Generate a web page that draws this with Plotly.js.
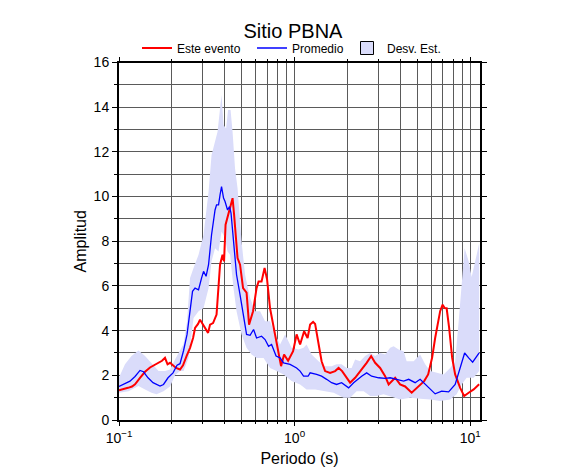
<!DOCTYPE html>
<html>
<head>
<meta charset="utf-8">
<script src="https://cdn.plot.ly/plotly-3.0.1.min.js"></script>
<style>html,body{margin:0;padding:0;background:#fff;}#chart{width:586px;height:475px;}</style>
</head>
<body>
<div id="chart"></div>
<script>
// Este evento (red)
var eventoT = [0.1,0.1068,0.1125,0.1186,0.1234,0.1317,0.1407,0.1502,0.1583,0.1668,0.1758,0.1828,0.189,0.1953,0.2031,0.2113,0.2226,0.2315,0.2425,0.2539,0.2641,0.2711,0.282,0.2894,0.2971,0.309,0.3216,0.33,0.3433,0.3594,0.3689,0.3763,0.3888,0.3966,0.4045,0.4179,0.4319,0.4434,0.4522,0.4642,0.4734,0.4892,0.5088,0.5328,0.5505,0.5801,0.6074,0.6235,0.6486,0.6746,0.6969,0.7249,0.7744,0.8103,0.8376,0.8712,0.9184,0.9806,1.027,1.075,1.133,1.186,1.226,1.275,1.309,1.37,1.425,1.492,1.593,1.702,1.781,1.865,1.991,2.071,2.212,2.409,2.573,2.729,2.876,3.07,3.279,3.433,3.594,3.738,3.99,4.262,4.643,4.989,5.258,5.47,5.764,6.074,6.318,6.529,6.746,6.97,7.155,7.345,7.59,7.897,8.214,8.77,9.244,9.806,10.47,11.25];
var eventoA = [1.33,1.38,1.44,1.5,1.6,1.89,2.16,2.35,2.45,2.56,2.65,2.78,2.49,2.56,2.45,2.33,2.26,2.45,2.86,3.23,3.67,4.12,4.3,4.49,4.34,4.12,3.9,4.27,4.34,4.72,6.2,6.95,7.4,7.1,8.74,9.18,9.63,9.93,9.2,8.0,7.25,6.95,5.9,5.7,4.27,4.87,5.9,6.2,6.2,6.8,6.3,5.0,3.83,2.93,2.41,2.93,2.65,3.08,3.83,3.38,3.97,3.67,4.27,4.39,4.3,3.4,2.63,2.19,2.11,2.19,2.33,2.19,1.89,1.67,1.89,2.26,2.56,2.86,2.56,2.33,1.96,1.59,1.74,1.89,1.59,1.5,1.22,1.44,1.6,1.74,2.04,2.8,3.67,4.3,4.87,5.16,5.01,5.0,4.12,2.78,2.04,1.44,1.07,1.22,1.37,1.6];

// Promedio (blue)
var promedioT = [0.1,0.1082,0.1155,0.1234,0.1317,0.1379,0.1463,0.1562,0.1713,0.1793,0.1902,0.2031,0.2141,0.2226,0.2331,0.2441,0.2539,0.2623,0.2711,0.2838,0.2952,0.3031,0.3132,0.3236,0.3366,0.3524,0.3594,0.3689,0.3763,0.3837,0.3939,0.4018,0.4152,0.4262,0.4347,0.4434,0.4581,0.4672,0.4892,0.5122,0.5328,0.5578,0.584,0.6074,0.6486,0.679,0.711,0.7395,0.7846,0.8268,0.8656,0.9428,1.027,1.075,1.125,1.194,1.226,1.335,1.425,1.522,1.625,1.735,1.853,2.031,2.169,2.409,2.573,2.747,3.011,3.279,3.502,3.813,4.18,4.463,4.86,5.189,5.65,6.318,6.88,7.54,8.214,8.77,9.30,9.806,10.33,11.25];
var promedioA = [1.5,1.62,1.74,1.95,2.22,2.16,1.89,1.67,1.52,1.59,1.89,2.11,2.45,2.52,3.1,3.83,4.87,5.76,5.9,5.83,6.35,6.65,6.43,6.95,8.29,9.4,9.63,9.63,10.08,10.45,9.93,9.78,9.4,9.55,9.25,8.58,7.4,6.5,5.6,4.72,3.83,3.79,4.05,3.67,3.75,3.6,3.3,3.38,2.86,2.78,2.56,2.49,2.33,2.19,1.96,1.96,2.11,2.04,1.96,1.82,1.67,1.59,1.67,1.44,1.67,1.96,2.11,1.96,1.89,1.86,1.89,1.82,1.74,1.82,1.67,1.82,1.52,1.17,1.29,1.26,1.59,2.33,3.0,2.78,2.59,3.0];

// Desv. Est. band: upper and lower edges
var bandUpperT = [0.1,0.1082,0.1178,0.1291,0.1407,0.1532,0.168,0.1828,0.1953,0.2085,0.2226,0.2331,0.2441,0.2539,0.2658,0.2838,0.3031,0.3236,0.3366,0.3524,0.3642,0.3763,0.3837,0.3939,0.4072,0.4179,0.4319,0.4434,0.4581,0.4734,0.4861,0.4989,0.5224,0.5578,0.5957,0.636,0.679,0.7249,0.7744,0.8268,0.8831,0.9614,1.054,1.125,1.17,1.25,1.37,1.492,1.625,1.735,1.853,1.979,2.113,2.212,2.361,2.522,2.693,2.876,3.07,3.279,3.502,3.666,3.914,4.18,4.347,4.766,5.189,5.542,5.917,6.444,7.063,7.691,8.214,8.602,8.945,9.30,9.806,10.20,10.68,11.25];
var bandUpperA = [1.9,2.49,2.86,3.11,2.86,2.56,2.19,2.19,2.26,2.71,3.08,3.4,4.42,6.35,6.8,7.4,8.29,10.22,11.86,12.53,12.9,13.94,14.54,13.2,13.05,13.87,13.87,12.9,11.26,10.37,9.18,7.99,6.5,5.46,4.87,4.87,4.42,4.42,3.83,3.38,3.83,3.23,3.16,3.23,3.38,2.93,2.63,2.41,2.41,2.49,2.49,2.33,2.33,2.71,2.63,2.86,3.0,2.86,3.0,2.93,3.23,3.3,3.16,3.08,2.63,2.63,2.93,2.49,2.19,2.11,2.04,2.33,2.63,4.42,6.2,7.69,7.1,6.4,7.1,7.9];
var bandLowerT = [0.1,0.1133,0.1291,0.1407,0.1532,0.1635,0.1793,0.1953,0.2085,0.2226,0.2331,0.2489,0.2658,0.2838,0.3031,0.3236,0.3366,0.3524,0.3689,0.3837,0.4018,0.4152,0.4292,0.4375,0.449,0.4672,0.4989,0.5328,0.5689,0.6074,0.6658,0.7249,0.7897,0.8656,0.9614,1.075,1.17,1.309,1.463,1.668,1.902,2.071,2.256,2.473,2.693,2.933,3.215,3.666,3.99,4.55,5.189,5.917,6.746,7.691,8.375,8.945,9.55,10.47,11.25];
var bandLowerA = [1.22,1.29,1.52,1.37,1.22,1.15,1.29,1.5,2.0,2.19,2.19,2.78,4.57,4.87,5.01,5.9,7.1,7.69,7.54,8.44,8.14,7.54,7.4,6.8,5.9,4.87,3.83,3.23,2.93,2.78,2.78,2.33,2.19,2.04,1.74,1.59,1.37,1.37,1.29,1.22,1.0,1.0,1.29,1.29,1.07,1.07,1.15,1.0,0.92,1.0,0.95,0.92,0.85,0.92,1.15,1.59,1.89,1.89,2.19];

var bandX = bandUpperT.concat(bandLowerT.slice().reverse());
var bandY = bandUpperA.concat(bandLowerA.slice().reverse());

var xMajor = [0.1, 1, 10];
var xMajorText = ['10<sup>\u22121</sup>', '10<sup>0</sup>', '10<sup>1</sup>'];
var xMinor = [0.2,0.3,0.4,0.5,0.6,0.7,0.8,0.9,2,3,4,5,6,7,8,9];

var bandColor = 'rgb(218,220,250)';
var gridColor = '#5a5a5a';

var traces = [
  {x: bandX, y: bandY, type: 'scatter', mode: 'lines', fill: 'toself',
   fillcolor: bandColor, line: {width: 0, color: bandColor}, showlegend: false, hoverinfo: 'skip'},
  {x: eventoT, y: eventoA, type: 'scatter', mode: 'lines', name: 'Este evento',
   line: {color: '#ff0000', width: 2}, legend: 'legend'},
  {x: promedioT, y: promedioA, type: 'scatter', mode: 'lines', name: 'Promedio',
   line: {color: '#0000ff', width: 1.3}, legend: 'legend2'},
  {x: [null], y: [null], type: 'scatter', mode: 'markers', name: 'Desv. Est.',
   marker: {symbol: 'square', size: 13, color: bandColor, line: {color: '#000', width: 1}},
   legend: 'legend3'}
];

function leg(xpx) {
  return {xref: 'container', yref: 'container', x: xpx / 586, xanchor: 'left',
          y: 1 - 48 / 475, yanchor: 'middle', orientation: 'h',
          font: {size: 12}, bgcolor: 'rgba(0,0,0,0)', borderwidth: 0, itemwidth: 30};
}

var layout = {
  width: 586, height: 475,
  margin: {l: 119, r: 106, t: 61, b: 55},
  paper_bgcolor: '#fff', plot_bgcolor: '#fff',
  font: {family: 'Liberation Sans, Arial, sans-serif', color: '#000'},
  title: {text: 'Sitio PBNA', font: {size: 20}, x: 0.5, xanchor: 'center',
          y: 0.935, yanchor: 'middle', yref: 'container'},
  showlegend: true,
  legend: leg(137),
  legend2: leg(252),
  legend3: leg(347),
  xaxis: {
    type: 'log', range: [-1, 1.056],
    tickmode: 'array', tickvals: xMajor, ticktext: xMajorText,
    ticks: 'outside', ticklen: 4, tickwidth: 1, tickcolor: '#000',
    showline: true, linewidth: 2, linecolor: '#000', mirror: 'ticks',
    showgrid: true, gridcolor: gridColor, gridwidth: 1,
    minor: {tickmode: 'array', tickvals: xMinor, ticks: 'outside', ticklen: 2,
            tickcolor: '#000', showgrid: true, gridcolor: gridColor, gridwidth: 1},
    tickfont: {size: 14},
    zeroline: false,
    title: {text: 'Periodo (s)', font: {size: 16}, standoff: 8}
  },
  yaxis: {
    range: [0, 16], tickmode: 'linear', tick0: 0, dtick: 2,
    ticks: 'outside', ticklen: 5, tickwidth: 1, tickcolor: '#000',
    showline: true, linewidth: 2, linecolor: '#000', mirror: 'ticks',
    showgrid: true, gridcolor: gridColor, gridwidth: 1,
    minor: {dtick: 1, ticks: 'outside', ticklen: 3, tickcolor: '#000',
            showgrid: true, gridcolor: gridColor, gridwidth: 1},
    tickfont: {size: 14},
    zeroline: false,
    title: {text: 'Amplitud', font: {size: 16}, standoff: 3}
  }
};

Plotly.newPlot('chart', traces, layout, {displayModeBar: false, staticPlot: true});
</script>
</body>
</html>
